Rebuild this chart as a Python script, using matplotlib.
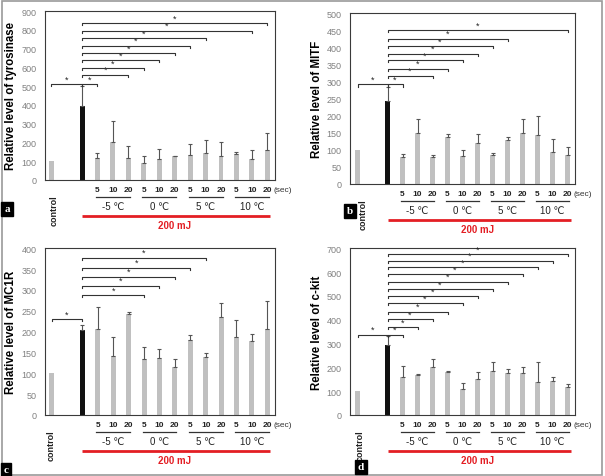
import matplotlib
matplotlib.use("Agg")
import matplotlib.pyplot as plt
from matplotlib.transforms import blended_transform_factory, ScaledTranslation
from matplotlib.patches import Rectangle

plt.rcParams['font.family'] = ['Liberation Sans', 'DejaVu Sans']

# bar order: control, 200 mJ alone, then 4 temperatures x 3 times
positions = [0, 2, 3, 4, 5, 6, 7, 8, 9, 10, 11, 12, 13, 14]
times = ['5', '10', '20']
temps = ['-5 \u2103', '0 \u2103', '5 \u2103', '10 \u2103']

tyr_mean = [100, 393, 115, 200, 119, 89, 114, 126, 131, 142, 126, 137, 114, 160]
tyr_err = [0, 106, 29, 114, 60, 37, 53, 2, 63, 73, 74, 10, 46, 89]
tyr_sig_to = [0, 2, 4, 5, 6, 7, 8, 9, 12, 13]
tyr_sig_y = [511, 511, 561, 596, 639, 676, 715, 756, 795, 836]

mitf_mean = [100, 242, 78, 150, 78, 136, 83, 121, 84, 128, 148, 143, 95, 84]
mitf_err = [0, 42, 10, 41, 8, 9, 16, 25, 7, 10, 43, 57, 38, 23]
mitf_sig_to = [0, 2, 4, 5, 6, 7, 8, 9, 13]
mitf_sig_y = [291, 291, 316, 337, 362, 381, 403, 425, 450]

mc1r_mean = [100, 204, 207, 142, 242, 134, 137, 114, 180, 139, 234, 186, 178, 206]
mc1r_err = [0, 12, 51, 44, 5, 30, 21, 20, 12, 9, 35, 42, 16, 67]
mc1r_sig_to = [0, 5, 6, 7, 8, 9]
mc1r_sig_y = [230, 288, 310, 332, 353, 377]

ckit_mean = [100, 293, 158, 169, 200, 182, 109, 150, 186, 175, 175, 140, 143, 118]
ckit_err = [0, 40, 46, 3, 34, 3, 27, 29, 35, 18, 28, 81, 15, 14]
ckit_sig_to = [0, 2, 3, 4, 5, 6, 7, 8, 9, 10, 11, 12, 13]
ckit_sig_y = [337, 337, 368, 403, 434, 469, 498, 529, 560, 592, 620, 648, 676]

fig = plt.figure(figsize=(6.05, 4.77), dpi=100)


def below(ax, px):
    return (blended_transform_factory(ax.transData, ax.transAxes)
            + ScaledTranslation(0, -px / 100, fig.dpi_scale_trans))


def panel(rect, xlim, mean, err, sig_to, sig_y, ymax, ystep, ylabel, letter, letter_xy,
          ctrl_dx=0.2):
    ax = fig.add_axes(rect)
    colors = ['#c0c0c0', '#111111'] + ['#c0c0c0'] * 12
    ax.bar(positions, mean, width=0.32, color=colors, zorder=2)
    for i in range(len(positions)):
        if err[i] > 0:
            ax.errorbar(positions[i], mean[i], yerr=[[0], [err[i]]], fmt='none',
                        ecolor='#555555', elinewidth=0.8, capsize=1.6, capthick=0.8, zorder=3)
    ax.set_xlim(*xlim)
    ax.set_ylim(0, ymax)
    ax.set_yticks(range(0, ymax + 1, ystep))
    ax.set_xticks([])
    ax.tick_params(axis='y', length=0, pad=6, labelsize=6.5, labelcolor='#808080')
    for s in ax.spines.values():
        s.set_color('#3a3a3a')
        s.set_linewidth(0.8)
    ax.set_ylabel(ylabel, fontsize=8.3, fontweight='bold')
    ax.yaxis.set_label_coords(-0.12, 0.5)

    # significance brackets
    tick = ymax * 0.012
    for t, y in zip(sig_to, sig_y):
        if t == 0:
            x0, x1 = positions[0], positions[1]
        else:
            x0, x1 = positions[1], positions[t]
        ax.plot([x0, x0, x1, x1], [y - tick, y, y, y - tick], color='#333333', lw=0.8,
                clip_on=False, zorder=4)
        ax.annotate('*', ((x0 + x1) / 2, y), xytext=(0, 0.5), textcoords='offset points',
                    ha='center', va='bottom', fontsize=6.5, color='#222222')

    # x annotations below the axis
    for g in range(4):
        for j, lab in enumerate(times):
            x = positions[2 + g * 3 + j]
            ax.text(x, 0, lab, transform=below(ax, 10), ha='center', va='center',
                    fontsize=6, fontweight='bold', color='#222222')
        gx0 = positions[2 + g * 3]
        gx1 = positions[4 + g * 3]
        ax.plot([gx0 - 0.1, gx1 + 0.1], [0, 0], transform=below(ax, 17), color='#333333',
                lw=0.9, clip_on=False)
        ax.text((gx0 + gx1) / 2, 0, temps[g], transform=below(ax, 26), ha='center',
                va='center', fontsize=7, color='#222222')
    ax.text(positions[-1] + 0.4, 0, '(sec)', transform=below(ax, 10), ha='left',
            va='center', fontsize=6, color='#333333')
    ax.plot([positions[1], positions[-1] + 0.2], [0, 0], transform=below(ax, 35.5),
            color='#e31e24', lw=2.0, clip_on=False, solid_capstyle='butt')
    ax.text((positions[1] + positions[-1]) / 2, 0, '200 mJ', transform=below(ax, 45),
            ha='center', va='center', fontsize=7, fontweight='bold', color='#e31e24')
    ax.text(positions[0] + ctrl_dx, 0, 'control', transform=below(ax, 29.5), ha='center',
            va='center', rotation=90, fontsize=6.5, fontweight='bold', color='#222222')

    fig.text(letter_xy[0], letter_xy[1], letter, ha='center', va='center', color='white',
             fontsize=8, fontweight='bold', family='Liberation Serif',
             bbox=dict(boxstyle='square,pad=0.25', fc='black', ec='black'))
    return ax


panel([45 / 605, 1 - 181 / 477, 230 / 605, 169 / 477], (-0.4, 14.5),
      tyr_mean, tyr_err, tyr_sig_to, tyr_sig_y, 900, 100,
      'Relative level of tyrosinase', 'a', (7 / 605, 1 - 210 / 477))
panel([350 / 605, 1 - 185 / 477, 225 / 605, 171 / 477], (-0.5, 14.5),
      mitf_mean, mitf_err, mitf_sig_to, mitf_sig_y, 500, 50,
      'Relative level of MITF', 'b', (350 / 605, 1 - 212 / 477), ctrl_dx=0.4)
panel([45 / 605, 1 - 416 / 477, 230 / 605, 166.7 / 477], (-0.43, 14.5),
      mc1r_mean, mc1r_err, mc1r_sig_to, mc1r_sig_y, 400, 50,
      'Relative level of MC1R', 'c', (6 / 605, 1 - 471 / 477), ctrl_dx=0.0)
panel([350 / 605, 1 - 416 / 477, 225 / 605, 166.7 / 477], (-0.5, 14.5),
      ckit_mean, ckit_err, ckit_sig_to, ckit_sig_y, 700, 100,
      'Relative level of c-kit', 'd', (361 / 605, 1 - 468 / 477))

fig.add_artist(Rectangle((1.5 / 605, 1.5 / 477), 600.5 / 605, 474 / 477,
                         transform=fig.transFigure, fill=False, ec='#9a9a9a', lw=1.2))

fig.savefig('out.png', dpi=100)
